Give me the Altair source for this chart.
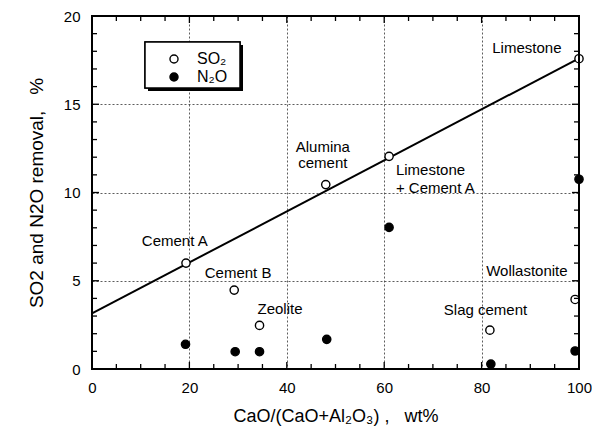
import altair as alt
import pandas as pd

# ---- data ----
so2_x = [19.3, 29.2, 34.4, 48.0, 61.0, 81.7, 99.2, 100.0]
so2_y = [6.0, 4.47, 2.47, 10.45, 12.05, 2.2, 3.94, 17.58]
n2o_x = [19.2, 29.4, 34.4, 48.2, 61.0, 81.9, 99.2, 100.0]
n2o_y = [1.40, 0.98, 0.98, 1.68, 8.02, 0.28, 1.02, 10.75]

line_x = [0, 100]
line_y = [3.15, 17.6]

label_text = ["Cement A", "Cement B", "Zeolite", "Alumina", "cement",
              "Limestone", "+ Cement A", "Limestone", "Wollastonite", "Slag cement"]
label_x = [17.0, 30.0, 38.6, 47.4, 47.4, 62.4, 62.4, 89.3, 89.3, 80.8]
label_y = [7.24, 5.43, 3.38, 12.56, 11.65, 11.26, 10.24, 18.16, 5.56, 3.34]
label_align = ["center", "center", "center", "center", "center",
               "left", "left", "center", "center", "center"]

x_ticks = [0, 20, 40, 60, 80, 100]
y_ticks = [0, 5, 10, 15, 20]
x_minor = [v for v in range(5, 100, 5) if v % 20]
y_minor = [v for v in range(1, 20) if v % 5]
x_major_in = [20, 40, 60, 80]
y_major_in = [5, 10, 15]

W, H = 487, 353
FONT = "Liberation Sans"
NB = "\u00a0"

pts = pd.DataFrame({
    "x": so2_x + n2o_x,
    "y": so2_y + n2o_y,
    "gas": ["SO\u2082"] * len(so2_x) + ["N\u2082O"] * len(n2o_x),
})
line_df = pd.DataFrame({"x": line_x, "y": line_y})
lab_df = pd.DataFrame({"x": label_x, "y": label_y, "t": label_text, "a": label_align})

xs = alt.Scale(domain=[0, 100], nice=False, zero=False)
ys = alt.Scale(domain=[0, 20], nice=False, zero=False)

x_axis = alt.Axis(values=x_ticks, title="CaO/(CaO+Al\u2082O\u2083)" + NB + "," + NB * 3 + "wt%",
                  ticks=False, domain=False, labelPadding=11, titlePadding=12,
                  labelFlush=False,
                  grid=True, gridDash=[2, 2], gridColor="#333", gridWidth=0.8,
                  labelFontSize=15, titleFontSize=18, labelFont=FONT, titleFont=FONT,
                  labelColor="black", titleColor="black", titleFontWeight="normal")
y_axis = alt.Axis(values=y_ticks, title="SO2 and N2O removal," + NB * 3 + "%",
                  ticks=False, domain=False, labelPadding=12, titlePadding=17,
                  labelFlush=False,
                  grid=True, gridDash=[2, 2], gridColor="#333", gridWidth=0.8,
                  labelFontSize=15, titleFontSize=19, labelFont=FONT, titleFont=FONT,
                  labelColor="black", titleColor="black", titleFontWeight="normal")

X = alt.X("x:Q", scale=xs, axis=x_axis)
Y = alt.Y("y:Q", scale=ys, axis=y_axis)

base = alt.Chart(line_df).mark_line(color="black", strokeWidth=2).encode(x=X, y=Y)

# legend box (decoration) with drop shadow
shadow = alt.Chart(line_df).mark_rect(fill="black").encode(
    x=alt.value(56), x2=alt.value(151), y=alt.value(29), y2=alt.value(75))
box = alt.Chart(line_df).mark_rect(fill="white", stroke="black", strokeWidth=1.5).encode(
    x=alt.value(53), x2=alt.value(148), y=alt.value(26), y2=alt.value(72))

points = alt.Chart(pts).mark_point(filled=True, stroke="black", strokeWidth=1.4, size=68,
                                    opacity=1).encode(
    x=X, y=Y,
    fill=alt.Fill("gas:N", scale=alt.Scale(domain=["SO\u2082", "N\u2082O"], range=["white", "black"]),
                  legend=alt.Legend(title=None, orient="none", legendX=74, legendY=35,
                                    labelFontSize=16, labelFont=FONT, labelColor="black",
                                    symbolType="circle", symbolSize=65, symbolStrokeColor="black",
                                    symbolStrokeWidth=1.4, labelOffset=15, rowPadding=2,
                                    padding=0, symbolOpacity=1)),
)

def text_layer(align):
    d = lab_df[lab_df["a"] == align]
    return alt.Chart(d).mark_text(align=align, baseline="middle", fontSize=15, font=FONT,
                                  color="black").encode(x=X, y=Y, text="t:N")

def ticks_x(vals, length, top):
    d = pd.DataFrame({"x": vals})
    y1, y2 = (0, length) if top else (H, H - length)
    return alt.Chart(d).mark_rule(color="black", strokeWidth=1.3).encode(
        x=X, y=alt.value(y1), y2=alt.value(y2))

def ticks_y(vals, length, right):
    d = pd.DataFrame({"y": vals})
    x1, x2 = (W, W - length) if right else (0, length)
    return alt.Chart(d).mark_rule(color="black", strokeWidth=1.3).encode(
        y=Y, x=alt.value(x1), x2=alt.value(x2))

tick_layers = []
for top in (False, True):
    tick_layers.append(ticks_x(x_minor, 5, top))
    tick_layers.append(ticks_x(x_major_in, 7, top))
for right in (False, True):
    tick_layers.append(ticks_y(y_minor, 5, right))
    tick_layers.append(ticks_y(y_major_in, 7, right))

frame = alt.Chart(line_df).mark_rect(fillOpacity=0, stroke="black", strokeWidth=2).encode(
    x=alt.value(0), x2=alt.value(W), y=alt.value(0), y2=alt.value(H))

chart = alt.layer(
    base, shadow, box, points, text_layer("center"), text_layer("left"), *tick_layers, frame
).properties(
    width=W, height=H,
    autosize=alt.AutoSizeParams(type="none"),
    padding={"left": 84, "top": 8, "right": 13, "bottom": 57},
).configure_view(stroke=None).configure(background="white")

chart.save("out.html", embed_options={"renderer": "svg", "actions": False})
